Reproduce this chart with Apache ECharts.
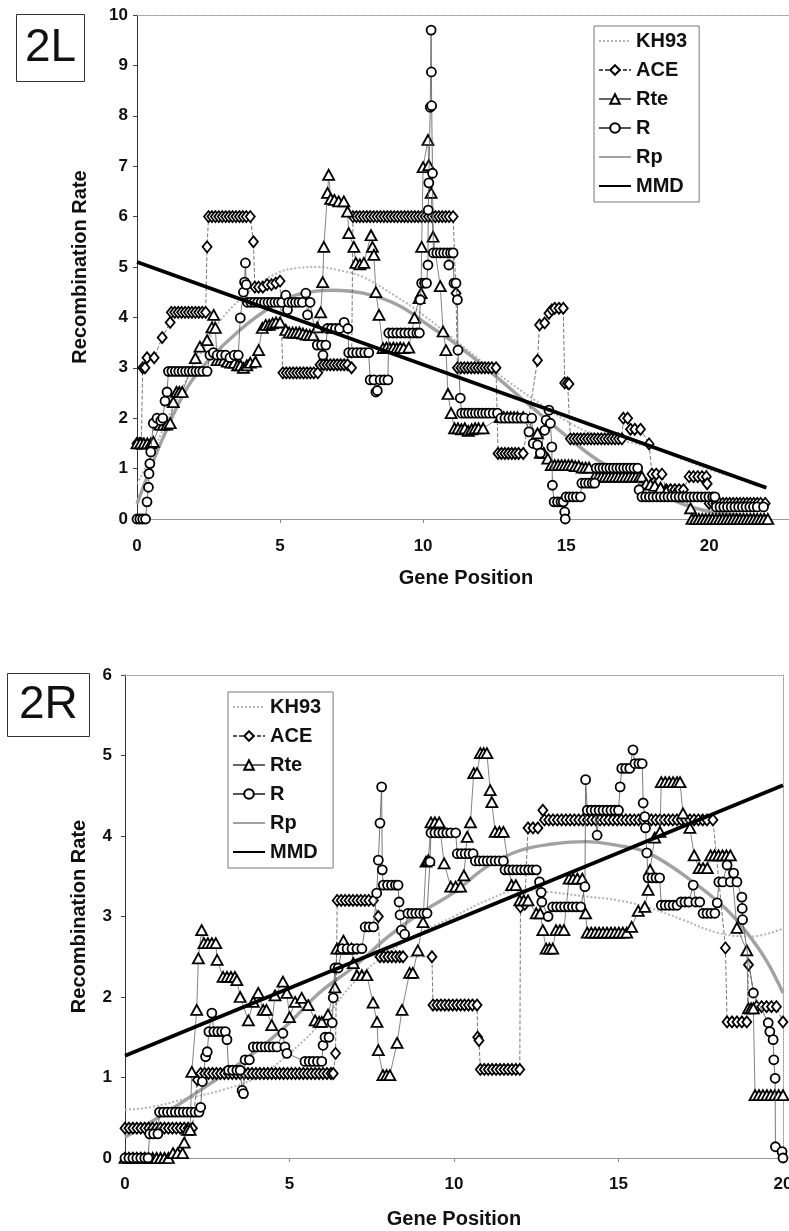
<!DOCTYPE html>
<html>
<head>
<meta charset="utf-8">
<script src="https://cdn.jsdelivr.net/npm/echarts@6/dist/echarts.min.js"></script>
<style>
html, body { margin: 0; padding: 0; background: #fff; overflow: hidden; }
#chart { width: 789px; height: 1231px; }
</style>
</head>
<body>
<div id="chart"></div>
<script>
// ---- 2L (top panel) ----
const topKH93 = [[0,0.7],[0.5,1.25],[1,1.9],[1.5,2.5],[2,3.05],[2.5,3.55],[3,4.0],[4,4.55],[4.9,4.88],[5.6,4.98],[6.3,5.0],[7.1,4.93],[7.9,4.8],[9.1,4.4],[10,4.05],[11,3.6],[12,3.15],[13,2.72],[13.9,2.36],[15,1.95],[15.9,1.7],[17,1.55],[17.9,1.43],[19,1.2],[20,0.98],[21,0.8],[21.75,0.64]];
const topRp = [[0,0.3],[0.4,0.9],[0.9,1.6],[1.75,2.6],[2.5,3.15],[3.6,3.75],[4.67,4.2],[5.6,4.45],[6.8,4.54],[7.9,4.48],[9.1,4.25],[10.3,3.8],[11.2,3.45],[12.5,2.85],[13.8,2.22],[15,1.65],[16.1,1.17],[17,0.9],[18,0.6],[19.05,0.3],[20,0.15],[21,0.08],[22,0.05]];
const topMMD = [[0,5.1],[22,0.62]];
const topACE = [
  [0,1.5],[0.08,1.5],[0.15,1.5],[0.2,3.0],[0.28,3.0],[0.35,3.2],[0.6,3.2],[0.88,3.6],[1.16,3.9],
  [1.2,4.1],[1.32,4.1],[1.44,4.1],[1.56,4.1],[1.68,4.1],[1.8,4.1],[1.92,4.1],[2.04,4.1],[2.16,4.1],[2.28,4.1],[2.4,4.1],
  [2.45,5.4],
  [2.5,6],[2.62,6],[2.74,6],[2.86,6],[2.98,6],[3.1,6],[3.22,6],[3.34,6],[3.46,6],[3.58,6],[3.7,6],[3.82,6],[3.96,6],
  [4.07,5.5],[4.12,4.6],[4.25,4.6],[4.4,4.6],[4.55,4.65],[4.7,4.65],[4.85,4.68],[5.0,4.72],
  [5.1,2.9],[5.22,2.9],[5.34,2.9],[5.46,2.9],[5.58,2.9],[5.7,2.9],[5.82,2.9],[5.94,2.9],[6.06,2.9],[6.18,2.9],[6.32,2.9],
  [6.4,3.06],[6.52,3.06],[6.64,3.06],[6.76,3.06],[6.88,3.06],[7.0,3.06],[7.12,3.06],[7.24,3.06],[7.36,3.06],[7.5,3.0],
  [7.55,6],[7.67,6],[7.79,6],[7.91,6],[8.03,6],[8.15,6],[8.27,6],[8.39,6],[8.51,6],[8.63,6],[8.75,6],[8.87,6],[8.99,6],[9.11,6],[9.23,6],
  [9.35,6],[9.47,6],[9.59,6],[9.71,6],[9.83,6],[9.95,6],[10.07,6],[10.19,6],[10.31,6],[10.43,6],[10.55,6],[10.67,6],[10.79,6],[10.91,6],[11.05,6],
  [11.15,4.48],
  [11.2,3],[11.32,3],[11.44,3],[11.56,3],[11.68,3],[11.8,3],[11.92,3],[12.04,3],[12.16,3],[12.28,3],[12.4,3],[12.55,3],
  [12.62,1.3],[12.74,1.3],[12.86,1.3],[12.98,1.3],[13.1,1.3],[13.22,1.3],[13.34,1.3],[13.5,1.3],
  [14.0,3.15],[14.07,3.85],[14.25,3.89],[14.4,4.08],[14.5,4.15],[14.6,4.18],[14.75,4.18],[14.9,4.18],
  [14.95,2.7],[15.05,2.7],[15.1,2.68],
  [15.15,1.59],[15.27,1.59],[15.39,1.59],[15.51,1.59],[15.63,1.59],[15.75,1.59],[15.87,1.59],[15.99,1.59],[16.11,1.59],[16.23,1.59],[16.35,1.59],[16.47,1.59],[16.59,1.59],[16.71,1.59],[16.83,1.59],[16.95,1.59],
  [17.0,2.0],[17.15,2.0],[17.25,1.78],[17.4,1.78],[17.6,1.78],[17.9,1.49],[18.0,0.89],[18.15,0.89],[18.35,0.89],
  [18.5,0.58],[18.65,0.58],[18.8,0.58],[18.95,0.58],[19.1,0.58],[19.3,0.84],[19.45,0.84],[19.6,0.84],[19.75,0.84],[19.9,0.84],[19.93,0.7],
  [20.0,0.31],[20.12,0.31],[20.24,0.31],[20.36,0.31],[20.48,0.31],[20.6,0.31],[20.72,0.31],[20.84,0.31],[20.96,0.31],[21.08,0.31],[21.2,0.31],[21.32,0.31],[21.44,0.31],[21.56,0.31],[21.68,0.31],[21.8,0.31],[21.96,0.31]
];
const topRte = [
  [0,1.5],[0.12,1.5],[0.24,1.5],[0.36,1.5],[0.48,1.5],[0.57,1.53],[0.8,1.87],[0.92,1.87],[1.04,1.87],[1.16,1.9],[1.27,2.32],[1.38,2.52],[1.48,2.52],[1.58,2.52],
  [2.04,3.19],[2.2,3.42],[2.45,3.55],[2.62,3.8],[2.68,4.05],[2.74,3.79],[2.8,3.15],[2.92,3.15],[3.04,3.15],[3.16,3.12],[3.28,3.1],[3.4,3.1],[3.52,3.05],[3.62,3.05],[3.72,3.0],[3.84,3.05],[3.96,3.1],
  [4.14,3.12],[4.25,3.35],[4.38,3.79],[4.5,3.85],[4.62,3.85],[4.74,3.88],[4.86,3.9],[5.0,3.9],[5.2,3.75],[5.32,3.7],[5.44,3.7],[5.56,3.7],[5.68,3.7],[5.8,3.68],[5.92,3.66],[6.04,3.65],[6.16,3.65],
  [6.3,3.8],[6.42,4.1],[6.49,4.7],[6.53,5.4],[6.66,6.47],[6.7,6.83],[6.77,6.35],[6.9,6.33],[7.05,6.3],[7.23,6.3],[7.36,6.1],[7.4,5.67],[7.58,5.4],[7.65,5.08],[7.79,5.05],[7.93,5.08],
  [8.18,5.63],[8.23,5.4],[8.28,5.24],[8.35,4.5],[8.46,4.05],[8.6,3.39],[8.72,3.4],[8.84,3.39],[8.96,3.4],[9.08,3.39],[9.2,3.4],[9.32,3.39],[9.5,3.4],
  [9.7,3.99],[9.86,4.38],[9.93,4.48],[9.95,5.4],[10.0,6.98],[10.17,7.52],[10.2,7.02],[10.28,6.47],[10.35,5.6],[10.6,4.62],[10.7,3.72],[10.8,3.35],[10.87,2.48],[10.98,2.1],
  [11.1,1.8],[11.22,1.8],[11.34,1.78],[11.46,1.8],[11.58,1.75],[11.7,1.78],[11.82,1.8],[11.94,1.8],[12.1,1.8],
  [12.7,2.02],[12.82,2.02],[12.94,2.02],[13.06,2.02],[13.18,2.02],[13.3,2.02],[13.5,2.02],
  [14.0,1.7],[14.1,1.31],[14.22,1.31],[14.36,1.2],[14.48,1.07],[14.6,1.07],[14.72,1.07],[14.84,1.07],[14.96,1.07],[15.08,1.07],[15.2,1.07],[15.32,1.05],[15.44,1.05],[15.56,1.02],[15.68,1.02],[15.8,1.02],
  [16.0,0.84],[16.12,0.84],[16.24,0.84],[16.36,0.84],[16.48,0.84],[16.6,0.84],[16.72,0.84],[16.84,0.84],[16.96,0.84],[17.08,0.84],[17.2,0.84],[17.32,0.84],[17.44,0.84],[17.56,0.84],[17.65,0.84],
  [17.8,0.7],[17.95,0.68],[18.1,0.66],[18.3,0.62],[18.5,0.55],[18.8,0.5],[19.1,0.45],[19.35,0.21],
  [19.4,0],[19.52,0],[19.64,0],[19.76,0],[19.88,0],[20.0,0],[20.12,0],[20.24,0],[20.36,0],[20.48,0],[20.6,0],[20.72,0],[20.84,0],[20.96,0],[21.08,0],[21.2,0],[21.32,0],[21.44,0],[21.56,0],[21.68,0],[21.8,0],[21.92,0],[22.05,0]
];
const topR = [
  [0,0],[0.1,0],[0.2,0],[0.3,0],[0.35,0.34],[0.4,0.63],[0.42,0.9],[0.45,1.1],[0.48,1.33],[0.57,1.9],[0.7,2.0],[0.83,1.95],[0.9,2.0],[0.98,2.34],[1.05,2.52],
  [1.1,2.93],[1.22,2.93],[1.34,2.93],[1.46,2.93],[1.58,2.93],[1.7,2.93],[1.82,2.93],[1.94,2.93],[2.06,2.93],[2.18,2.93],[2.3,2.93],[2.45,2.93],
  [2.55,3.25],[2.67,3.3],[2.8,3.25],[2.95,3.25],[3.1,3.25],[3.25,3.2],[3.4,3.25],[3.54,3.25],
  [3.61,3.99],[3.72,4.5],[3.76,4.7],[3.79,5.08],[3.82,4.65],
  [3.86,4.3],[3.98,4.3],[4.1,4.3],[4.22,4.3],[4.34,4.3],[4.46,4.3],[4.58,4.3],[4.7,4.3],[4.82,4.3],[4.94,4.3],[5.06,4.3],[5.2,4.44],[5.26,4.15],[5.3,4.3],[5.42,4.3],[5.54,4.3],[5.66,4.3],[5.78,4.3],[5.9,4.48],[5.96,4.05],[6.05,4.3],
  [6.3,3.45],[6.45,3.45],[6.5,3.25],[6.6,3.45],[6.66,3.78],[6.8,3.78],[6.94,3.78],[7.08,3.78],[7.24,3.9],[7.37,3.78],
  [7.4,3.3],[7.54,3.3],[7.68,3.3],[7.82,3.3],[7.96,3.3],[8.1,3.3],
  [8.15,2.76],[8.28,2.76],[8.35,2.52],[8.4,2.55],[8.5,2.76],[8.64,2.76],[8.77,2.76],
  [8.8,3.69],[8.94,3.69],[9.08,3.69],[9.22,3.69],[9.36,3.69],[9.5,3.69],[9.64,3.69],[9.78,3.69],[9.87,3.69],
  [9.9,4.35],[9.95,4.68],[10.05,4.68],[10.12,4.68],[10.17,5.04],[10.18,6.13],[10.2,6.67],[10.25,8.17],[10.28,9.7],[10.29,8.87],[10.3,8.2],[10.33,6.86],
  [10.36,5.28],[10.48,5.28],[10.6,5.28],[10.72,5.28],[10.84,5.28],[10.9,5.04],[10.96,5.28],[11.05,5.28],
  [11.08,4.68],[11.15,4.68],[11.2,4.35],[11.22,3.35],[11.3,2.4],
  [11.35,2.1],[11.47,2.1],[11.59,2.1],[11.71,2.1],[11.83,2.1],[11.95,2.1],[12.07,2.1],[12.19,2.1],[12.31,2.1],[12.45,2.1],[12.6,2.1],
  [12.72,2.0],[12.86,2.0],[13.0,2.0],[13.14,2.0],[13.28,2.0],[13.42,2.0],[13.55,2.0],
  [13.7,1.73],[13.8,2.0],[13.85,1.5],[14.0,1.47],[14.1,1.31],[14.25,1.76],[14.3,1.96],[14.4,2.16],[14.45,1.9],[14.5,1.43],[14.52,0.67],
  [14.58,0.34],[14.7,0.34],[14.82,0.34],[14.9,0.34],[14.95,0.14],[14.97,0],[15.0,0.44],[15.12,0.44],[15.24,0.44],[15.36,0.44],[15.5,0.44],
  [15.55,0.71],[15.67,0.71],[15.79,0.71],[15.91,0.71],[16.0,0.71],
  [16.05,1.01],[16.17,1.01],[16.29,1.01],[16.41,1.01],[16.53,1.01],[16.65,1.01],[16.77,1.01],[16.89,1.01],[17.01,1.01],[17.13,1.01],[17.25,1.01],[17.37,1.01],[17.5,1.01],
  [17.55,0.58],[17.65,0.44],[17.78,0.44],[17.91,0.44],[18.04,0.44],[18.17,0.44],[18.3,0.44],[18.43,0.44],[18.56,0.44],[18.69,0.44],[18.82,0.44],[18.95,0.44],
  [19.08,0.44],[19.21,0.44],[19.34,0.44],[19.47,0.44],[19.6,0.44],[19.73,0.44],[19.86,0.44],[19.99,0.44],[20.12,0.44],[20.2,0.44],
  [20.25,0.24],[20.38,0.24],[20.51,0.24],[20.64,0.24],[20.77,0.24],[20.9,0.24],[21.03,0.24],[21.16,0.24],[21.29,0.24],[21.42,0.24],[21.55,0.24],[21.68,0.24],[21.9,0.24]
];

// ---- 2R (bottom panel) ----
const botKH93 = [[0,0.6],[0.75,0.63],[2,0.75],[3,0.85],[4,1.0],[5,1.3],[6,1.7],[7,2.2],[8,2.55],[9,2.8],[10,3.0],[11,3.2],[12,3.33],[13,3.3],[14,3.25],[15,3.2],[16,3.1],[17,2.95],[18,2.8],[19,2.75],[20,2.85]];
const botRp = [[0,0.26],[1,0.5],[2.28,0.84],[3.9,1.3],[5,1.68],[5.9,2.05],[6.94,2.37],[8,2.75],[9,3.05],[10,3.3],[11,3.62],[12,3.82],[13,3.9],[14,3.93],[15,3.88],[15.9,3.79],[17.2,3.45],[18.2,3.12],[18.9,2.8],[19.5,2.45],[20,2.05]];
const botMMD = [[0,1.27],[20,4.63]];
const botACE = [
  [0,0.37],[0.12,0.37],[0.24,0.37],[0.36,0.37],[0.48,0.37],[0.6,0.37],[0.72,0.37],[0.84,0.37],[0.96,0.37],[1.08,0.37],[1.2,0.37],[1.32,0.37],[1.44,0.37],[1.56,0.37],[1.68,0.37],[1.8,0.37],[1.92,0.37],[2.05,0.37],
  [2.2,0.97],[2.3,1.05],[2.42,1.05],[2.54,1.05],[2.66,1.05],[2.78,1.05],[2.9,1.05],[3.02,1.05],[3.14,1.05],[3.26,1.05],[3.38,1.05],[3.5,1.05],[3.62,1.05],[3.74,1.05],[3.86,1.05],[3.98,1.05],
  [4.1,1.05],[4.22,1.05],[4.34,1.05],[4.46,1.05],[4.58,1.05],[4.7,1.05],[4.82,1.05],[4.94,1.05],[5.06,1.05],[5.18,1.05],[5.3,1.05],[5.42,1.05],[5.54,1.05],[5.66,1.05],[5.78,1.05],[5.9,1.05],[6.02,1.05],[6.14,1.05],[6.26,1.05],[6.33,1.05],
  [6.4,1.3],
  [6.45,3.2],[6.57,3.2],[6.69,3.2],[6.81,3.2],[6.93,3.2],[7.05,3.2],[7.17,3.2],[7.29,3.2],[7.41,3.2],[7.55,3.2],
  [7.7,3.0],
  [7.75,2.5],[7.87,2.5],[7.99,2.5],[8.11,2.5],[8.23,2.5],[8.35,2.5],[8.45,2.5],[9.33,2.5],
  [9.36,1.9],[9.48,1.9],[9.6,1.9],[9.72,1.9],[9.84,1.9],[9.96,1.9],[10.08,1.9],[10.2,1.9],[10.32,1.9],[10.44,1.9],[10.56,1.9],[10.7,1.9],
  [10.72,1.5],[10.76,1.46],
  [10.8,1.1],[10.92,1.1],[11.04,1.1],[11.16,1.1],[11.28,1.1],[11.4,1.1],[11.52,1.1],[11.64,1.1],[11.76,1.1],[11.88,1.1],[12.0,1.1],
  [12.02,3.12],[12.15,3.15],[12.25,4.1],[12.4,4.1],[12.55,4.1],[12.7,4.32],
  [12.75,4.2],[12.88,4.2],[13.01,4.2],[13.14,4.2],[13.27,4.2],[13.4,4.2],[13.53,4.2],[13.66,4.2],[13.79,4.2],[13.92,4.2],[14.05,4.2],[14.18,4.2],[14.31,4.2],[14.44,4.2],
  [14.57,4.2],[14.7,4.2],[14.83,4.2],[14.96,4.2],[15.09,4.2],[15.22,4.2],[15.35,4.2],[15.48,4.2],[15.61,4.2],[15.74,4.2],[15.87,4.2],[16.0,4.2],[16.13,4.2],[16.26,4.2],
  [16.39,4.2],[16.52,4.2],[16.65,4.2],[16.78,4.2],[16.91,4.2],[17.04,4.2],[17.17,4.2],[17.3,4.2],[17.43,4.2],[17.56,4.2],[17.69,4.2],[17.87,4.2],
  [18.25,2.61],[18.3,1.69],[18.45,1.69],[18.6,1.69],[18.75,1.69],[18.9,1.69],[18.95,2.4],[19.2,1.88],[19.35,1.88],[19.5,1.88],[19.65,1.88],[19.8,1.88],[20.0,1.69]
];
const botRte = [
  [0,0],[0.12,0],[0.24,0],[0.36,0],[0.48,0],[0.6,0],[0.72,0],[0.84,0],[0.96,0],[1.08,0],[1.2,0],[1.32,0],[1.46,0.06],[1.6,0.06],[1.75,0.06],[1.8,0.19],[1.9,0.35],[1.98,0.35],
  [2.03,1.07],[2.18,1.84],[2.23,2.48],[2.33,2.83],[2.4,2.67],[2.52,2.67],[2.64,2.67],[2.76,2.67],[2.8,2.46],[2.98,2.25],[3.1,2.25],[3.22,2.25],[3.34,2.25],[3.4,2.21],[3.5,2.0],
  [3.75,1.71],[3.9,1.94],[4.05,2.05],[4.2,1.84],[4.3,1.84],[4.46,1.65],[4.56,2.02],[4.8,2.19],[4.92,2.05],[5.0,1.75],[5.17,1.94],[5.37,1.99],[5.57,1.9],[5.78,1.71],[5.9,1.69],[5.98,1.69],
  [6.17,1.78],[6.38,2.12],[6.44,2.6],[6.56,2.6],[6.64,2.7],[6.76,2.6],[6.88,2.6],[6.94,2.42],[7.05,2.27],[7.2,2.27],[7.35,2.27],[7.54,1.93],[7.66,1.69],[7.7,1.34],[7.84,1.03],[7.95,1.03],[8.05,1.03],
  [8.27,1.43],[8.42,1.84],[8.65,2.3],[8.75,2.3],[8.9,2.58],[9.06,2.93],[9.15,3.68],[9.22,3.7],[9.3,4.17],[9.42,4.17],[9.55,4.17],[9.7,3.66],[9.9,3.37],[10.05,3.37],[10.2,3.37],
  [10.3,3.51],[10.4,3.99],[10.5,4.17],[10.6,4.78],[10.7,4.78],[10.8,5.03],[10.9,5.03],[11.0,5.03],[11.1,4.57],[11.15,4.42],[11.25,4.05],[11.38,4.05],[11.5,4.05],
  [11.75,3.39],[11.88,3.39],[12.0,3.2],[12.12,3.2],[12.25,3.2],[12.5,3.04],[12.62,3.04],[12.7,2.83],[12.8,2.6],[12.9,2.6],[13.0,2.6],[13.1,2.83],[13.22,2.83],[13.34,2.83],
  [13.5,3.47],[13.62,3.47],[13.75,3.47],[13.9,3.47],[14.0,3.04],[14.05,2.8],[14.17,2.8],[14.29,2.8],[14.41,2.8],[14.53,2.8],[14.65,2.8],[14.77,2.8],[14.89,2.8],[15.01,2.8],[15.13,2.8],[15.25,2.8],
  [15.4,2.87],[15.6,3.07],[15.8,3.12],[15.9,3.33],[15.96,3.58],[16.1,3.98],[16.26,4.05],[16.3,4.67],[16.42,4.67],[16.54,4.67],[16.66,4.67],[16.78,4.67],[16.87,4.67],[16.96,4.28],[17.17,4.1],
  [17.3,3.76],[17.45,3.6],[17.57,3.6],[17.7,3.6],[17.8,3.76],[17.92,3.76],[18.04,3.76],[18.16,3.76],[18.28,3.76],[18.4,3.76],[18.6,2.86],[18.9,2.58],[18.95,1.86],[19.03,1.86],[19.1,1.86],
  [19.15,0.78],[19.27,0.78],[19.39,0.78],[19.51,0.78],[19.63,0.78],[19.75,0.78],[19.87,0.78],[20.0,0.78]
];
const botR = [
  [0,0],[0.12,0],[0.24,0],[0.36,0],[0.48,0],[0.6,0],[0.7,0],[0.75,0.3],[0.87,0.3],[1.0,0.3],
  [1.05,0.57],[1.17,0.57],[1.29,0.57],[1.41,0.57],[1.53,0.57],[1.65,0.57],[1.77,0.57],[1.89,0.57],[2.01,0.57],[2.13,0.57],[2.25,0.57],[2.3,0.63],[2.35,0.95],
  [2.45,1.26],[2.5,1.32],[2.55,1.57],[2.64,1.8],[2.7,1.57],[2.82,1.57],[2.94,1.57],[3.05,1.57],[3.1,1.47],[3.15,1.09],[3.27,1.09],[3.4,1.09],[3.5,1.09],[3.56,0.84],[3.6,0.8],
  [3.65,1.22],[3.78,1.22],[3.9,1.38],[4.02,1.38],[4.14,1.38],[4.26,1.38],[4.38,1.38],[4.5,1.38],[4.62,1.38],[4.8,1.55],[4.86,1.38],[4.92,1.3],
  [5.47,1.2],[5.6,1.2],[5.72,1.2],[5.85,1.2],[5.98,1.2],[6.02,1.4],[6.08,1.5],[6.2,1.5],[6.3,1.68],[6.33,1.99],[6.38,2.36],[6.48,2.36],
  [6.6,2.6],[6.75,2.6],[6.9,2.6],[7.05,2.6],[7.2,2.6],[7.3,2.87],[7.42,2.87],[7.55,2.87],[7.65,3.29],[7.7,3.7],[7.75,4.16],[7.8,4.61],[7.82,3.58],
  [7.85,3.39],[7.98,3.39],[8.1,3.39],[8.22,3.39],[8.3,3.39],[8.33,3.18],[8.36,3.02],[8.4,2.83],[8.5,2.78],[8.6,3.04],[8.72,3.04],[8.84,3.04],[8.96,3.04],[9.08,3.04],[9.18,3.04],
  [9.27,3.68],[9.3,4.04],[9.42,4.04],[9.54,4.04],[9.66,4.04],[9.78,4.04],[9.9,4.04],[10.05,4.04],
  [10.1,3.78],[10.22,3.78],[10.34,3.78],[10.46,3.78],[10.58,3.78],[10.65,3.69],[10.77,3.69],[10.89,3.69],[11.01,3.69],[11.13,3.69],[11.25,3.69],[11.37,3.69],[11.5,3.69],
  [11.55,3.58],[11.67,3.58],[11.79,3.58],[11.91,3.58],[12.03,3.58],[12.15,3.58],[12.27,3.58],[12.39,3.58],[12.5,3.58],[12.6,3.43],[12.65,3.3],[12.67,3.18],[12.86,3.0],
  [13.0,3.12],[13.12,3.12],[13.24,3.12],[13.36,3.12],[13.48,3.12],[13.6,3.12],[13.72,3.12],[13.85,3.12],[13.98,3.37],[14.0,4.7],
  [14.05,4.32],[14.17,4.32],[14.29,4.32],[14.35,4.01],[14.41,4.32],[14.53,4.32],[14.65,4.32],[14.77,4.32],[14.89,4.32],[15.0,4.32],[15.05,4.61],
  [15.1,4.84],[15.22,4.84],[15.34,4.84],[15.44,5.07],[15.5,4.9],[15.62,4.9],[15.72,4.9],[15.75,4.41],[15.8,4.24],[15.82,4.1],[15.86,3.79],
  [15.9,3.48],[16.02,3.48],[16.14,3.48],[16.25,3.48],[16.3,3.14],[16.42,3.14],[16.54,3.14],[16.66,3.14],[16.78,3.14],[16.9,3.18],[17.02,3.18],[17.14,3.18],[17.27,3.39],[17.35,3.18],[17.47,3.18],
  [17.57,3.04],[17.69,3.04],[17.81,3.04],[17.93,3.04],[18.0,3.17],[18.05,3.43],[18.17,3.43],[18.3,3.64],[18.4,3.43],[18.5,3.54],[18.6,3.43],[18.75,3.24],[18.76,3.1],[18.77,2.96],
  [19.1,2.05],[19.55,1.68],[19.6,1.57],[19.7,1.47],[19.72,1.22],[19.76,0.99],[19.77,0.14],[19.97,0.08],[20.0,0]
];

const seriesNames = ['KH93', 'ACE', 'Rte', 'R', 'Rp', 'MMD'];
const FONT = '"Liberation Sans", Arial, Helvetica, sans-serif';

const chart = echarts.init(document.getElementById('chart'), null, { renderer: 'canvas' });

const markerStyle = { color: '#fff', borderColor: '#000', borderWidth: 1.8 };
const noMarker = { color: 'rgba(0,0,0,0)', borderWidth: 0 };

const buildSeries = (axisIndex, d) => [
    { name: 'KH93', data: d.kh93, smooth: 0.4, symbol: 'none', z: 2, itemStyle: noMarker,
      lineStyle: { color: '#b4b4b4', width: 2, type: 'dotted' } },
    { name: 'Rp', data: d.rp, smooth: 0.4, symbol: 'none', z: 2, itemStyle: noMarker,
      lineStyle: { color: '#a2a2a2', width: 3.4 } },
    { name: 'ACE', data: d.ace, symbol: 'diamond', symbolSize: [9, 11], z: 3,
      itemStyle: markerStyle, lineStyle: { color: '#555', width: 0.8, type: [4, 2] } },
    { name: 'Rte', data: d.rte, symbol: 'triangle', symbolSize: [11, 10], z: 4,
      itemStyle: markerStyle, lineStyle: { color: '#666', width: 0.8 } },
    { name: 'R', data: d.r, symbol: 'circle', symbolSize: 9, z: 5,
      itemStyle: markerStyle, lineStyle: { color: '#555', width: 0.8 } },
    { name: 'MMD', data: d.mmd, symbol: 'none', z: 6, itemStyle: noMarker,
      lineStyle: { color: '#000', width: 3.6 } }
].map(s => Object.assign({
    type: 'line',
    xAxisIndex: axisIndex,
    yAxisIndex: axisIndex,
    showAllSymbol: true,
    clip: false,
    animation: false
}, s));

const labelStyle = { fontFamily: FONT, fontSize: 17, fontWeight: 'bold', color: '#111' };
const nameStyle = { fontFamily: FONT, fontSize: 20, fontWeight: 'bold', color: '#111' };

const mainX = (grid, max, gap, margin) => ({
    gridIndex: grid, type: 'value', min: 0, max: max, interval: 5,
    name: 'Gene Position', nameLocation: 'middle', nameGap: gap, nameTextStyle: nameStyle,
    axisLine: { show: true, onZero: false, lineStyle: { color: '#9a9a9a', width: 1 } },
    axisTick: { show: true, length: 4, lineStyle: { color: '#888' } },
    axisLabel: Object.assign({ margin: margin, showMaxLabel: max % 5 === 0 }, labelStyle),
    splitLine: { show: false }
});
const borderX = (grid, max) => ({
    gridIndex: grid, type: 'value', min: 0, max: max, position: 'top',
    axisLine: { show: true, onZero: false, lineStyle: { color: '#9a9a9a', width: 1, type: 'dotted' } },
    axisTick: { show: false }, axisLabel: { show: false }, splitLine: { show: false }
});
const mainY = (grid, max, gap, margin) => ({
    gridIndex: grid, type: 'value', min: 0, max: max, interval: 1,
    name: 'Recombination Rate', nameLocation: 'middle', nameGap: gap, nameTextStyle: nameStyle,
    axisLine: { show: true, onZero: false, lineStyle: { color: '#333', width: 1 } },
    axisTick: { show: true, length: 4, lineStyle: { color: '#444' } },
    axisLabel: Object.assign({ margin: margin }, labelStyle),
    splitLine: { show: false }
});
const borderY = (grid, max, show) => ({
    gridIndex: grid, type: 'value', min: 0, max: max, position: 'right',
    axisLine: { show: show, onZero: false, lineStyle: { color: '#9a9a9a', width: 1, type: 'dotted' } },
    axisTick: { show: false }, axisLabel: { show: false }, splitLine: { show: false }
});

const legendBase = {
    data: seriesNames, orient: 'vertical', itemWidth: 32, itemHeight: 12, itemGap: 9,
    padding: [5, 12, 6, 4], borderColor: '#777', borderWidth: 1, selectedMode: false,
    textStyle: { fontFamily: FONT, fontSize: 20, fontWeight: 'bold', color: '#111', lineHeight: 20 }
};

const panelLabel = (text, left, top, padding) => ({
    text: text, left: left, top: top, padding: padding,
    borderColor: '#333', borderWidth: 1,
    textStyle: { fontFamily: FONT, fontSize: 46, fontWeight: 'normal', color: '#111', lineHeight: 48 }
});

chart.setOption({
    animation: false,
    backgroundColor: '#fff',
    title: [
        panelLabel('2L', 16, 14, [10, 9, 10, 9]),
        panelLabel('2R', 7, 673, [8, 12, 8, 12])
    ],
    legend: [
        Object.assign({ left: 594, top: 26 }, legendBase),
        Object.assign({ left: 228, top: 692 }, legendBase)
    ],
    grid: [
        { left: 137, top: 15, width: 658, height: 504, outerBoundsMode: 'none', containLabel: false },
        { left: 125, top: 675, width: 658, height: 483, outerBoundsMode: 'none', containLabel: false }
    ],
    xAxis: [mainX(0, 23, 49, 19), borderX(0, 23), mainX(1, 20, 51, 18), borderX(1, 20)],
    yAxis: [mainY(0, 10, 47, 9), borderY(0, 10, false), mainY(1, 6, 36, 13), borderY(1, 6, true)],
    series: [
        ...buildSeries(0, { kh93: topKH93, rp: topRp, ace: topACE, rte: topRte, r: topR, mmd: topMMD }),
        ...buildSeries(2, { kh93: botKH93, rp: botRp, ace: botACE, rte: botRte, r: botR, mmd: botMMD })
    ]
});
</script>
</body>
</html>
